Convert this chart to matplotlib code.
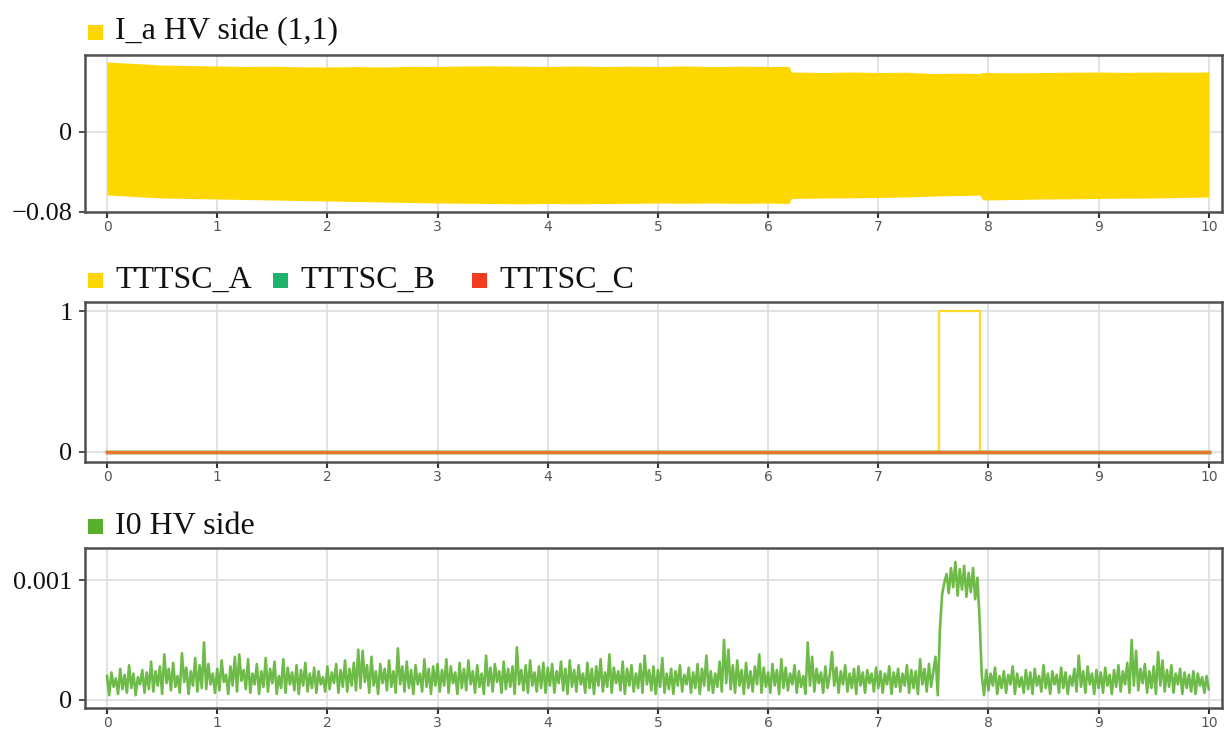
import numpy as np
import matplotlib.pyplot as plt
from matplotlib.patches import Rectangle

# --- data ---
# top panel: envelope of the dense 50 Hz phase current (A), units of 1e-3
env_t = [0, 0.25, 0.5, 0.75, 1, 1.25, 1.5, 1.75, 2, 2.25, 2.5, 2.75, 3, 3.25, 3.5, 3.75,
         4, 4.25, 4.5, 4.75, 5, 5.25, 5.5, 5.75, 6, 6.19, 6.21, 6.5, 6.75, 7, 7.25, 7.5,
         7.75, 7.92, 7.95, 8.25, 8.5, 8.75, 9, 9.25, 9.5, 9.75, 10]
env_upper = [70, 68.5, 67, 66.5, 66, 65.5, 65.8, 65.2, 65, 65.4, 65, 65.6, 65.5, 66, 66.2, 65.8,
             65.5, 66, 65.5, 65.8, 65.5, 66, 65.4, 65.8, 65.5, 65.5, 60, 59.5, 60, 59.5, 59.8, 58.5,
             58.8, 58.5, 59.5, 59.2, 59.5, 59.8, 60, 59.6, 60, 59.8, 60]
env_lower = [-63, -64.5, -66, -66.5, -67, -67.5, -68, -68.5, -69, -69.5, -70, -70.5, -71, -71.2, -71.5, -71.8,
             -71.5, -71.8, -71.5, -71.3, -71, -71.2, -71, -71.3, -71, -71.5, -66.5, -66, -65.8, -65.5, -65, -64,
             -63.5, -63, -68, -67.5, -67, -66.8, -66.5, -66.2, -66, -65.5, -65]

# middle panel: trip signals
trip_t = [0, 7.55, 7.92, 10]
trip_a = [0, 1, 0, 0]
trip_b = [0, 0, 0, 0]
trip_c = [0, 0, 0, 0]
trip_labels = ["TTTSC_A", "TTTSC_B", "TTTSC_C"]

# bottom panel: zero sequence current, sampled every 0.02 s (units of 1e-4)
i0_vals = [
    # 0 s
    2.0, 0.4, 2.3, 1.1, 1.8, 0.5, 2.6, 0.9, 2.1, 0.6,
    2.9, 1.0, 2.2, 0.4, 1.9, 1.3, 2.5, 0.6, 2.3, 0.9,
    3.2, 0.7, 2.4, 1.2, 2.8, 0.5, 3.8, 1.4, 2.6, 0.8,
    3.1, 1.1, 2.0, 0.6, 3.9, 1.5, 2.7, 0.5, 2.4, 1.2,
    3.5, 0.7, 2.9, 1.0, 4.8, 0.9, 3.0, 1.3, 2.2, 0.6,
    # 1 s
    2.6, 0.8, 3.3, 1.5, 2.1, 0.5, 2.8, 1.2, 3.6, 0.7,
    3.8, 1.6, 2.5, 0.9, 3.4, 0.6, 2.2, 1.3, 3.0, 0.5,
    2.4, 1.1, 3.5, 0.7, 2.6, 1.4, 3.2, 0.5, 2.0, 1.0,
    3.4, 0.6, 2.7, 1.3, 2.3, 0.8, 2.9, 0.5, 2.5, 1.2,
    3.1, 0.7, 2.2, 1.0, 2.7, 0.6, 2.4, 1.3, 1.9, 0.7,
    # 2 s
    2.8, 0.9, 2.3, 1.4, 3.0, 0.6, 2.5, 1.1, 3.3, 0.7,
    2.6, 1.2, 3.1, 0.8, 4.2, 1.0, 4.1, 1.5, 2.9, 0.6,
    3.6, 1.2, 2.4, 0.5, 3.0, 1.4, 2.6, 0.8, 3.3, 1.1,
    2.4, 0.6, 4.3, 1.3, 2.8, 0.7, 3.2, 1.0, 2.5, 0.5,
    2.9, 1.3, 2.2, 0.7, 3.4, 1.1, 2.6, 0.5, 2.8, 1.2,
    # 3 s
    3.0, 0.7, 2.5, 1.2, 3.4, 0.6, 2.8, 1.4, 2.3, 0.5,
    3.1, 1.0, 2.6, 0.8, 3.3, 1.3, 2.4, 0.6, 2.9, 1.1,
    2.2, 0.5, 3.7, 1.2, 2.7, 0.7, 3.0, 1.5, 2.4, 0.6,
    3.2, 0.9, 2.6, 1.1, 2.8, 0.5, 4.4, 1.3, 2.5, 0.8,
    2.9, 0.6, 3.3, 1.2, 2.3, 0.7, 2.8, 1.0, 3.1, 0.6,
    # 4 s
    2.7, 1.2, 3.0, 0.6, 2.4, 1.4, 3.2, 0.8, 2.6, 0.5,
    3.3, 1.1, 2.5, 0.7, 2.9, 1.3, 2.2, 0.6, 3.1, 1.0,
    2.6, 0.5, 2.8, 1.2, 3.4, 0.7, 2.3, 1.1, 3.8, 0.6,
    2.7, 1.4, 2.4, 0.8, 3.2, 0.5, 2.6, 1.2, 2.9, 0.7,
    2.2, 1.0, 3.0, 0.6, 3.7, 1.3, 2.5, 0.8, 2.8, 0.5,
    # 5 s
    2.5, 1.1, 3.5, 0.6, 2.2, 0.9, 2.6, 0.5, 2.4, 1.2,
    2.9, 0.7, 2.1, 1.3, 2.7, 0.6, 2.3, 1.0, 3.0, 0.5,
    2.6, 1.2, 3.7, 0.8, 2.4, 0.6, 2.2, 1.1, 3.2, 0.7,
    5.0, 1.4, 4.2, 0.9, 2.9, 0.6, 3.3, 1.2, 2.5, 0.5,
    3.1, 1.0, 2.4, 0.7, 2.8, 1.3, 3.8, 0.6, 2.7, 1.1,
    # 6 s
    2.3, 0.6, 3.0, 1.2, 2.5, 0.5, 3.4, 1.0, 2.7, 0.8,
    2.2, 1.3, 2.9, 0.6, 2.4, 1.1, 2.0, 0.5, 4.8, 1.2,
    3.6, 0.7, 2.6, 1.4, 2.3, 0.6, 2.8, 1.0, 2.1, 4.0,
    1.2, 2.7, 0.6, 2.4, 1.3, 2.9, 0.7, 2.2, 1.0, 2.6,
    0.5, 2.8, 1.2, 2.3, 0.6, 2.5, 1.4, 2.2, 0.7, 2.7,
    # 7 s
    1.0, 2.4, 0.6, 2.2, 1.3, 2.8, 0.5, 2.3, 1.1, 2.6,
    0.7, 2.2, 1.2, 2.9, 0.6, 2.5, 1.0, 2.4, 0.5, 3.4,
    1.3, 2.6, 0.7, 3.0, 1.1, 2.4, 3.6, 0.4, 6.0, 8.8,
    9.8, 10.5, 8.9, 11.0, 9.4, 11.5, 8.7, 10.9, 9.2, 11.2,
    8.6, 10.6, 9.0, 11.0, 8.4, 10.2, 6.7, 2.0, 0.4, 2.5,
    # 8 s
    0.8, 2.2, 1.2, 2.7, 0.5, 2.0, 1.0, 2.4, 0.6, 2.1,
    1.3, 2.8, 0.5, 2.2, 1.1, 1.9, 0.6, 2.5, 0.9, 2.3,
    0.5, 2.6, 1.2, 2.0, 0.7, 2.9, 1.0, 2.2, 0.5, 2.4,
    1.3, 2.1, 0.6, 2.7, 1.0, 2.3, 0.5, 2.0, 1.2, 2.6,
    0.7, 3.7, 1.1, 2.4, 0.6, 2.8, 1.3, 2.2, 0.5, 2.5,
    # 9 s
    1.0, 2.3, 0.6, 2.7, 1.2, 2.1, 0.5, 2.5, 1.1, 2.9,
    0.7, 2.4, 1.3, 3.1, 0.6, 5.0, 1.2, 4.1, 0.8, 2.6,
    1.4, 3.0, 0.6, 2.4, 1.0, 2.8, 0.5, 4.0, 1.2, 3.3,
    0.7, 2.5, 1.1, 2.9, 0.6, 2.2, 1.3, 2.6, 0.5, 2.3,
    1.0, 2.1, 0.7, 2.4, 0.5, 2.2, 1.2, 1.9, 0.6, 2.0,
    # 10 s
    0.9,
]
i0_t = np.linspace(0, 10, len(i0_vals))

x_ticks = list(range(11))

# --- styling ---
YELLOW = "#FFD700"
GREEN_B = "#1DB36C"
RED_C = "#F23C1E"
ORANGE = "#E8772E"
GREEN_I0 = "#56B02A"
GRID = "#DCDDE2"
FRAME = "#505050"
SERIF = "Liberation Serif"

fig = plt.figure(figsize=(12.32, 7.31), dpi=100)
W, H = 1232, 731


def add_axes(top, bottom):
    ax = fig.add_axes([85 / W, 1 - bottom / H, (1222 - 85) / W, (bottom - top) / H])
    ax.set_xlim(-0.2, 10.12)
    ax.set_xticks(x_ticks)
    ax.grid(True, color=GRID, linewidth=1.2, zorder=0)
    ax.set_axisbelow(True)
    for s in ax.spines.values():
        s.set_color(FRAME)
        s.set_linewidth(1.8)
    ax.tick_params(axis="x", direction="out", length=4, width=1.5, color="#333333",
                   labelsize=10, labelcolor="#555555", pad=2)
    ax.tick_params(axis="y", direction="out", length=4, width=1.2, color="#333333",
                   labelsize=19, labelcolor="#111111", pad=5)
    return ax


def legend_row(y_px, items):
    # items: (x of square in px, colour, label)
    for x_px, col, label in items:
        fig.add_artist(Rectangle((x_px / W, 1 - (y_px + 7.5) / H), 15 / W, 15 / H,
                                 transform=fig.transFigure, color=col, linewidth=0))
        fig.text((x_px + 27) / W, 1 - y_px / H, label, fontsize=23, family=SERIF,
                 va="center", ha="left", color="#111111")


# top panel
ax1 = add_axes(55, 212)
ax1.fill_between(env_t, np.array(env_upper) * 1e-3, np.array(env_lower) * 1e-3,
                 color=YELLOW, linewidth=0, zorder=2)
ax1.set_ylim(-0.080, 0.077)
ax1.set_yticks([-0.08, 0])
ax1.set_yticklabels(["\u22120.08", "0"], family=SERIF)
legend_row(32, [(88, YELLOW, "I_a HV side (1,1)")])

# middle panel
ax2 = add_axes(302, 462)
ax2.plot(trip_t, trip_a, drawstyle="steps-post", color="#FFD92E", linewidth=1.6, zorder=3)
ax2.plot(trip_t, trip_b, drawstyle="steps-post", color=GREEN_B, linewidth=2.5, zorder=4)
ax2.plot(trip_t, trip_c, drawstyle="steps-post", color=ORANGE, linewidth=2.5, zorder=5)
ax2.set_ylim(-0.071, 1.064)
ax2.set_yticks([0, 1])
ax2.set_yticklabels(["0", "1"], family=SERIF)
legend_row(280, [(88, YELLOW, trip_labels[0]),
                 (273, GREEN_B, trip_labels[1]),
                 (472, RED_C, trip_labels[2])])

# bottom panel
ax3 = add_axes(548, 708)
ax3.plot(i0_t, np.array(i0_vals) * 1e-4, color=GREEN_I0, linewidth=1.9, alpha=0.85, zorder=3)
ax3.set_ylim(-0.0000667, 0.001267)
ax3.set_yticks([0, 0.001])
ax3.set_yticklabels(["0", "0.001"], family=SERIF)
legend_row(526, [(88, GREEN_I0, "I0 HV side")])

fig.savefig("out.png", dpi=100)
